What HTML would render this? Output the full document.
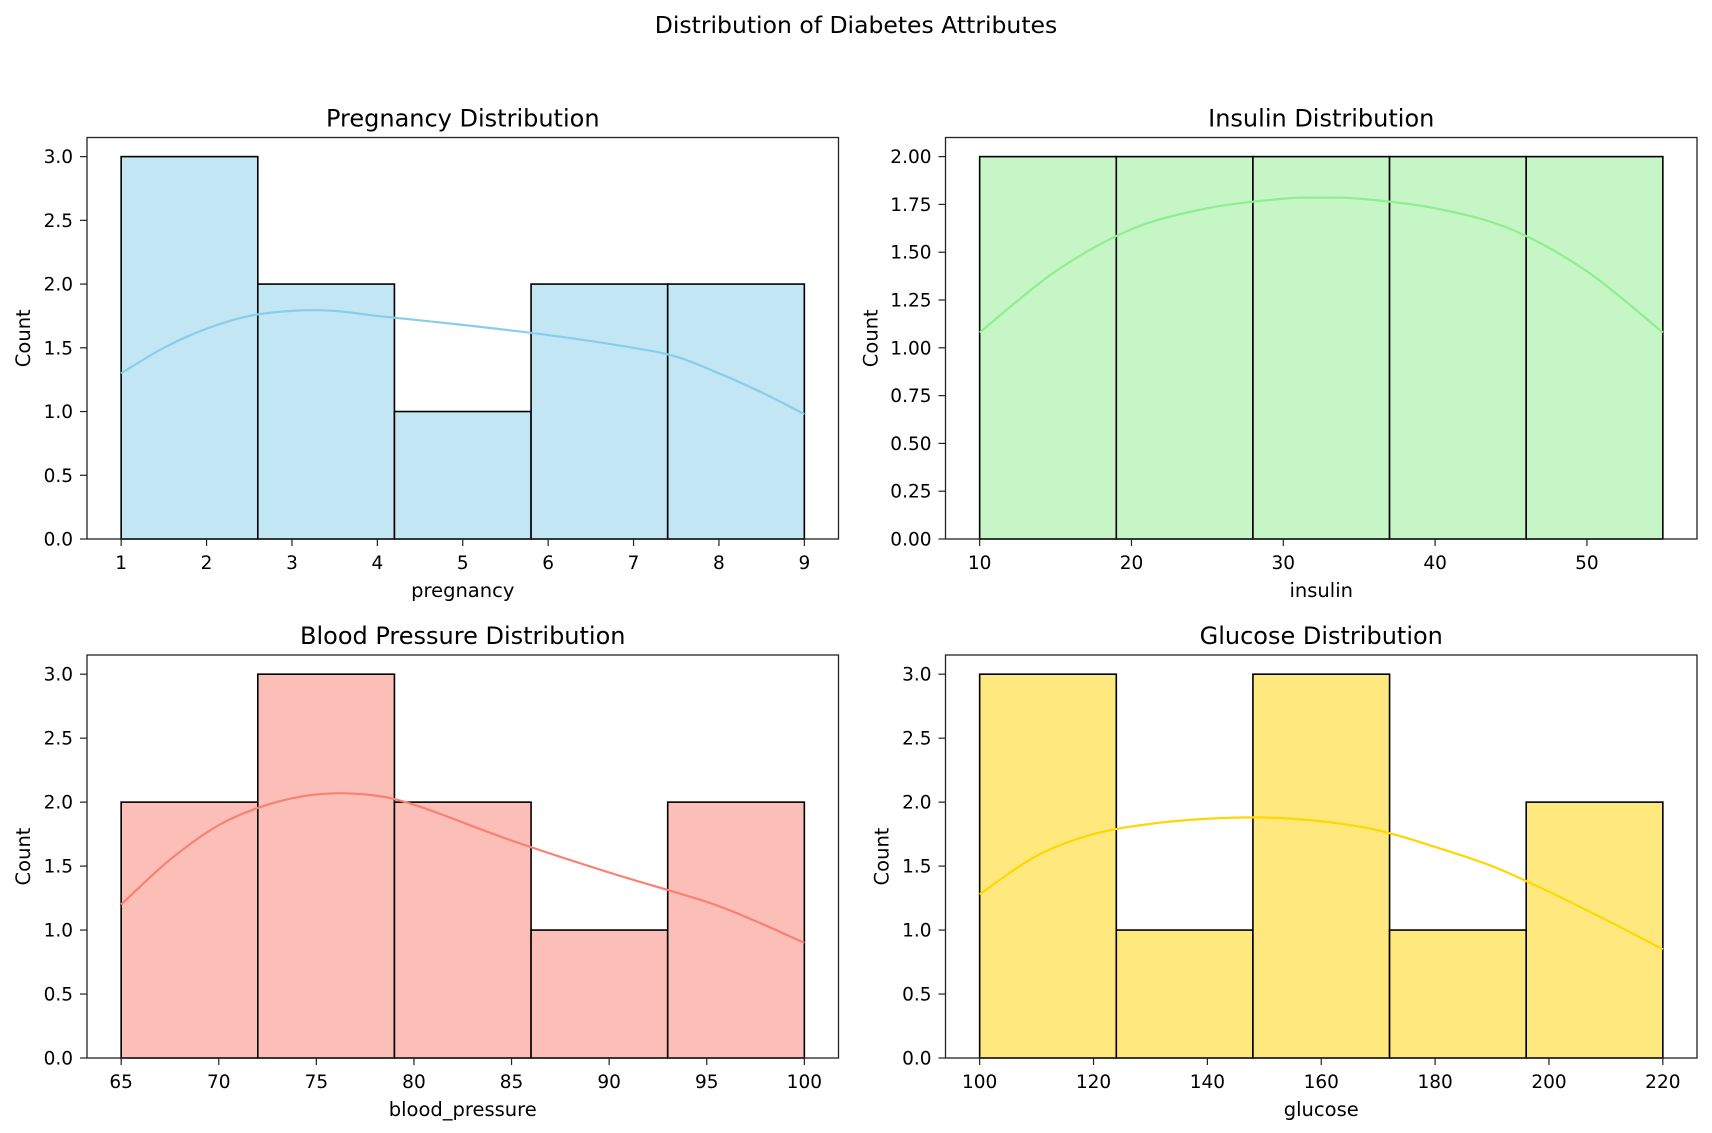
<!DOCTYPE html>
<html><head><meta charset="utf-8">
<style>
html,body{margin:0;padding:0;background:#fff;}
svg{display:block;font-family:"DejaVu Sans","Liberation Sans",sans-serif;}
</style></head>
<body>
<svg id="fig" width="1712" height="1133" viewBox="0 0 1712 1133" xmlns="http://www.w3.org/2000/svg">
<rect width="1712" height="1133" fill="#fff"/>
<text x="856" y="33" font-size="23.5" text-anchor="middle" fill="#000">Distribution of Diabetes Attributes</text>
</svg>
<script>
// Pregnancy
const pregEdges = [1, 2.6, 4.2, 5.8, 7.4, 9];
const pregCounts = [3, 2, 1, 2, 2];
const pregKdeX = [1, 1.5, 2, 2.5, 3, 3.5, 4, 5, 6, 7, 7.5, 8, 8.5, 9];
const pregKdeY = [1.3, 1.5, 1.65, 1.75, 1.79, 1.79, 1.75, 1.68, 1.6, 1.5, 1.43, 1.3, 1.15, 0.98];
const pregTicks = [1, 2, 3, 4, 5, 6, 7, 8, 9];
const pregYTicks = ["0.0", "0.5", "1.0", "1.5", "2.0", "2.5", "3.0"];
// Insulin
const insEdges = [10, 19, 28, 37, 46, 55];
const insCounts = [2, 2, 2, 2, 2];
const insKdeX = [10, 15, 20, 25, 30, 32.5, 35, 40, 45, 50, 55];
const insKdeY = [1.08, 1.4, 1.62, 1.73, 1.78, 1.785, 1.78, 1.73, 1.62, 1.4, 1.08];
const insTicks = [10, 20, 30, 40, 50];
const insYTicks = ["0.00", "0.25", "0.50", "0.75", "1.00", "1.25", "1.50", "1.75", "2.00"];
// Blood pressure
const bpEdges = [65, 72, 79, 86, 93, 100];
const bpCounts = [2, 3, 2, 1, 2];
const bpKdeX = [65, 67.5, 70, 72.5, 75, 77.5, 80, 85, 90, 95, 97.5, 100];
const bpKdeY = [1.2, 1.55, 1.82, 1.98, 2.06, 2.06, 1.98, 1.7, 1.45, 1.22, 1.07, 0.9];
const bpTicks = [65, 70, 75, 80, 85, 90, 95, 100];
const bpYTicks = ["0.0", "0.5", "1.0", "1.5", "2.0", "2.5", "3.0"];
// Glucose
const gluEdges = [100, 124, 148, 172, 196, 220];
const gluCounts = [3, 1, 3, 1, 2];
const gluKdeX = [100, 110, 120, 130, 140, 150, 160, 170, 180, 190, 200, 210, 220];
const gluKdeY = [1.28, 1.58, 1.75, 1.83, 1.87, 1.88, 1.85, 1.78, 1.65, 1.5, 1.3, 1.08, 0.85];
const gluTicks = [100, 120, 140, 160, 180, 200, 220];
const gluYTicks = ["0.0", "0.5", "1.0", "1.5", "2.0", "2.5", "3.0"];

const NS = "http://www.w3.org/2000/svg";
const svg = document.getElementById("fig");
function mk(tag, attrs, parent) {
  const e = document.createElementNS(NS, tag);
  for (const k in attrs) e.setAttribute(k, attrs[k]);
  (parent || svg).appendChild(e);
  return e;
}
function panel(key, box, title, xlabel, edges, counts, kx, ky, xticks, yticks, fill, line) {
  const [L, R, T, B] = box;
  const g = mk("g", {});
  
  
  const x0 = edges[0], x1 = edges[edges.length - 1];
  const pad = (x1 - x0) * 0.05;
  const xmin = x0 - pad, xmax = x1 + pad;
  const ymax = Math.max(...counts) * 1.05;
  const sx = v => L + (v - xmin) / (xmax - xmin) * (R - L);
  const sy = v => B - v / ymax * (B - T);
  for (let i = 0; i < counts.length; i++) {
    const r = mk("rect", {x: sx(edges[i]), y: sy(counts[i]), width: sx(edges[i+1]) - sx(edges[i]), height: B - sy(counts[i]), fill: fill, stroke: "#000", "stroke-width": 1.6}, g);
    
    
  }
  const p = kx.map((v, i) => [sx(v), sy(ky[i])]);
  let d = "M" + p[0][0] + " " + p[0][1];
  for (let i = 0; i < p.length - 1; i++) {
    const a = p[Math.max(0, i-1)], b = p[i], c = p[i+1], e = p[Math.min(p.length-1, i+2)];
    const c1 = [b[0] + (c[0]-a[0])/6, b[1] + (c[1]-a[1])/6];
    const c2 = [c[0] - (e[0]-b[0])/6, c[1] - (e[1]-b[1])/6];
    d += ` C${c1[0]} ${c1[1]} ${c2[0]} ${c2[1]} ${c[0]} ${c[1]}`;
  }
  const kde = mk("path", {d: d, fill: "none", stroke: line, "stroke-width": 2.2}, g);
  
  
  const frame = mk("rect", {x: L, y: T, width: R - L, height: B - T, fill: "none", stroke: "#222", "stroke-width": 1.3}, g);
  
  
  xticks.forEach(v => {
    const x = sx(v);
    mk("line", {x1: x, x2: x, y1: B, y2: B + 7, stroke: "#222", "stroke-width": 1.2}, g);
    const t = mk("text", {x: x, y: B + 30, "font-size": 18.5, "text-anchor": "middle", fill: "#000"}, g);
    t.textContent = v;
    
    
  });
  yticks.forEach(s => {
    const y = sy(parseFloat(s));
    mk("line", {x1: L - 7, x2: L, y1: y, y2: y, stroke: "#222", "stroke-width": 1.2}, g);
    const t = mk("text", {x: L - 14, y: y + 6.5, "font-size": 18.5, "text-anchor": "end", fill: "#000"}, g);
    t.textContent = s;
    
    
  });
  const tt = mk("text", {x: (L + R) / 2, y: T - 11, "font-size": 24, "text-anchor": "middle", fill: "#000"}, g);
  tt.textContent = title;
  
  
  const xl = mk("text", {x: (L + R) / 2, y: B + 58, "font-size": 19.5, "text-anchor": "middle", fill: "#000"}, g);
  xl.textContent = xlabel;
  
  
  const yw = yticks[0].length > 3 ? 69 : 58;
  const yl = mk("text", {x: 0, y: 0, "font-size": 19.5, "text-anchor": "middle", fill: "#000", transform: `translate(${L - yw + 1},${(T + B) / 2}) rotate(-90)`}, g);
  yl.textContent = "Count";
  
  
}
panel("pregnancy", [87, 838.5, 137.5, 539], "Pregnancy Distribution", "pregnancy", pregEdges, pregCounts, pregKdeX, pregKdeY, pregTicks, pregYTicks, "#c3e6f4", "#87ceeb");
panel("insulin", [945.5, 1697, 137.5, 539], "Insulin Distribution", "insulin", insEdges, insCounts, insKdeX, insKdeY, insTicks, insYTicks, "#c6f6c6", "#90ee90");
panel("blood-pressure", [87, 838.5, 655, 1058], "Blood Pressure Distribution", "blood_pressure", bpEdges, bpCounts, bpKdeX, bpKdeY, bpTicks, bpYTicks, "#fcbfb8", "#fa8072");
panel("glucose", [945.5, 1697, 655, 1058], "Glucose Distribution", "glucose", gluEdges, gluCounts, gluKdeX, gluKdeY, gluTicks, gluYTicks, "#ffe97f", "#ffd700");
</script>
</body></html>
